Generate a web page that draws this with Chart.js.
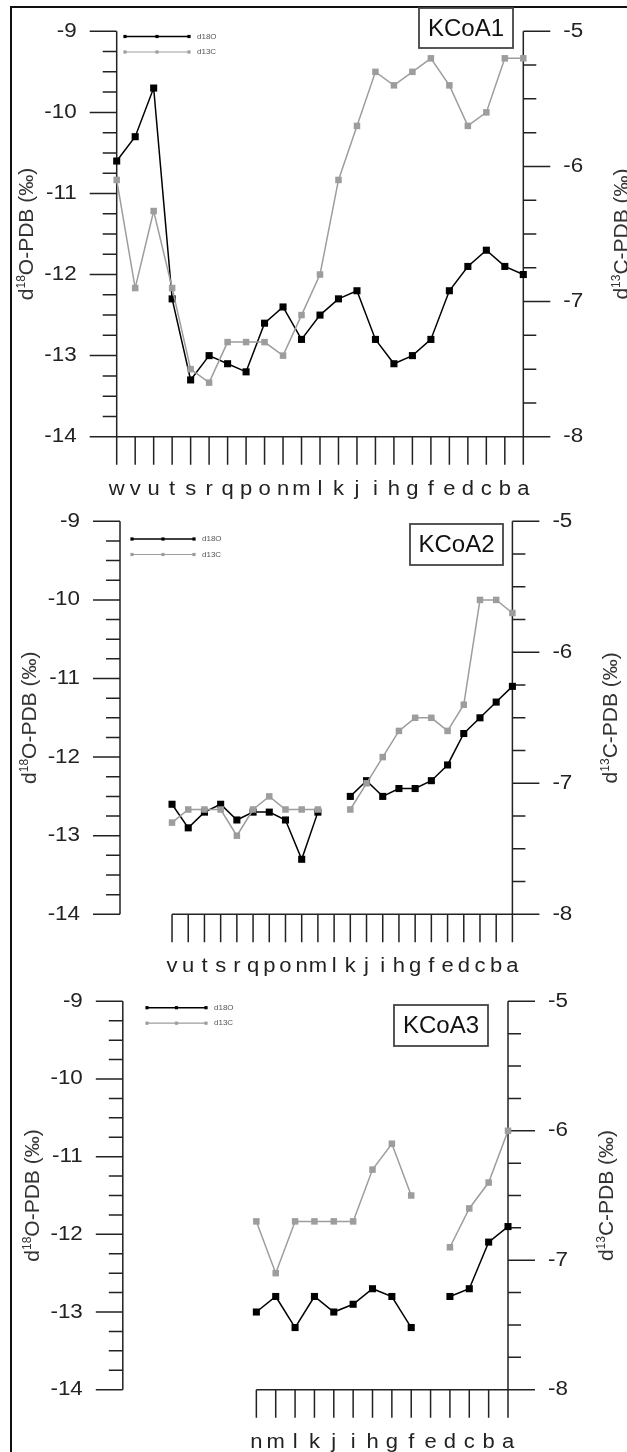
<!DOCTYPE html>
<html>
<head>
<meta charset="utf-8">
<script src="https://cdn.jsdelivr.net/npm/chart.js@4.4.1/dist/chart.umd.min.js"></script>
<style>
  html, body { margin: 0; padding: 0; background: #fff; }
  body { width: 627px; height: 1452px; overflow: hidden; position: relative; }
  #frame { position: absolute; left: 10px; top: 6px; width: 700px; height: 1500px;
           border-top: 2px solid #111; border-left: 2px solid #111; }
  canvas { position: absolute; left: 0; }
</style>
</head>
<body>
<div id="frame"></div>
<canvas id="kcoa1" width="627" height="510" style="top:0px"></canvas>
<canvas id="kcoa2" width="627" height="510" style="top:484px"></canvas>
<canvas id="kcoa3" width="627" height="510" style="top:968px"></canvas>
<script>
// sample letters along each profile
const lettersA1 = ['w','v','u','t','s','r','q','p','o','n','m','l','k','j','i','h','g','f','e','d','c','b','a'];
const lettersA2 = ['v','u','t','s','r','q','p','o','n','m','l','k','j','i','h','g','f','e','d','c','b','a'];
const lettersA3 = ['n','m','l','k','j','i','h','g','f','e','d','c','b','a'];

// KCoA1
const d18O_A1 = [-10.6, -10.3, -9.7, -12.3, -13.3, -13.0, -13.1, -13.2, -12.6, -12.4, -12.8, -12.5,
                 -12.3, -12.2, -12.8, -13.1, -13.0, -12.8, -12.2, -11.9, -11.7, -11.9, -12.0];
const d13C_A1 = [-6.1, -6.9, -6.33, -6.9, -7.5, -7.6, -7.3, -7.3, -7.3, -7.4, -7.1, -6.8,
                 -6.1, -5.7, -5.3, -5.4, -5.3, -5.2, -5.4, -5.7, -5.6, -5.2, -5.2];

// KCoA2 (no sample at l)
const d18O_A2 = [-12.6, -12.9, -12.7, -12.6, -12.8, -12.7, -12.7, -12.8, -13.3, -12.7, null,
                 -12.5, -12.3, -12.5, -12.4, -12.4, -12.3, -12.1, -11.7, -11.5, -11.3, -11.1];
const d13C_A2 = [-7.3, -7.2, -7.2, -7.2, -7.4, -7.2, -7.1, -7.2, -7.2, -7.2, null,
                 -7.2, -7.0, -6.8, -6.6, -6.5, -6.5, -6.6, -6.4, -5.6, -5.6, -5.7];

// KCoA3 (no sample at e)
const d18O_A3 = [-13.0, -12.8, -13.2, -12.8, -13.0, -12.9, -12.7, -12.8, -13.2, null, -12.8, -12.7, -12.1, -11.9];
const d13C_A3 = [-6.7, -7.1, -6.7, -6.7, -6.7, -6.7, -6.3, -6.1, -6.5, null, -6.9, -6.6, -6.4, -6.0];

// axis ranges
const oxyTicks = [-9, -10, -11, -12, -13, -14];
const carbTicks = [-5, -6, -7, -8];

const FONT = '"Liberation Sans", Arial, sans-serif';
const AXIS = '#222';
const BLACK = '#000';
const GREY = '#9d9d9d';

function toPoints(vals) {
  return vals.map((v, i) => ({ x: i, y: v }));
}

function wideText(ctx, txt, x, y, align, sx) {
  ctx.save();
  ctx.translate(x, y);
  ctx.scale(sx, 1);
  ctx.textAlign = align;
  ctx.fillText(txt, 0, 0);
  ctx.restore();
}

function rotatedTitle(ctx, iso, rest, cx, cy) {
  ctx.save();
  ctx.translate(cx, cy);
  ctx.rotate(-Math.PI / 2);
  ctx.fillStyle = '#333';
  ctx.textBaseline = 'alphabetic';
  const big = '21px ' + FONT, small = '12px ' + FONT;
  ctx.font = big;
  const wd = ctx.measureText('d').width;
  const wr = ctx.measureText(rest).width;
  ctx.font = small;
  const ws = ctx.measureText(iso).width;
  let x = -(wd + ws + wr) / 2;
  const base = 7;
  ctx.font = big;
  ctx.fillText('d', x, base);
  x += wd;
  ctx.font = small;
  ctx.fillText(iso, x, base - 8);
  x += ws;
  ctx.font = big;
  ctx.fillText(rest, x, base);
  ctx.restore();
}

const axesPlugin = {
  id: 'isoAxes',
  beforeDatasetsDraw(chart, args, o) {
    const ctx = chart.ctx;
    const xs = chart.scales.x, yl = chart.scales.y, yr = chart.scales.y2;
    const L = chart.chartArea.left, R = chart.chartArea.right;
    const T = chart.chartArea.top, B = chart.chartArea.bottom;
    ctx.save();
    ctx.strokeStyle = AXIS;
    ctx.lineWidth = 1.5;
    ctx.fillStyle = '#222';

    // left axis
    ctx.beginPath();
    ctx.moveTo(L, T); ctx.lineTo(L, B);
    for (let v = -9; v >= -14; v -= 0.25) {
      const y = yl.getPixelForValue(v);
      const len = Number.isInteger(v) ? 27 : 14;
      ctx.moveTo(L - len, y); ctx.lineTo(L, y);
    }
    // right axis
    ctx.moveTo(R, T); ctx.lineTo(R, B);
    for (let v = -5; v >= -8; v -= 0.25) {
      const y = yr.getPixelForValue(v);
      const len = Number.isInteger(v) ? 27 : 13;
      ctx.moveTo(R, y); ctx.lineTo(R + len, y);
    }
    // bottom axis with one tick per sample
    const x0 = xs.getPixelForValue(0), x1 = xs.getPixelForValue(o.letters.length - 1);
    ctx.moveTo(x0, B); ctx.lineTo(x1, B);
    o.letters.forEach((l, i) => {
      const x = xs.getPixelForValue(i);
      ctx.moveTo(x, B); ctx.lineTo(x, B + 28);
    });
    ctx.stroke();

    // tick labels
    ctx.font = '20px ' + FONT;
    ctx.textBaseline = 'middle';
    oxyTicks.forEach(v => wideText(ctx, String(v), L - 40, yl.getPixelForValue(v), 'right', 1.12));
    carbTicks.forEach(v => wideText(ctx, String(v), R + 40, yr.getPixelForValue(v), 'left', 1.12));
    ctx.textBaseline = 'alphabetic';
    o.letters.forEach((l, i) => wideText(ctx, l, xs.getPixelForValue(i), B + 58, 'center', 1.1));

    // axis titles
    const cy = (T + B) / 2;
    rotatedTitle(ctx, '18', 'O-PDB (\u2030)', L - 91, cy);
    rotatedTitle(ctx, '13', 'C-PDB (\u2030)', R + 98, cy);

    // legend
    const lg = o.legend;
    [[BLACK, 1.5, 'd18O', 0], [GREY, 1.2, 'd13C', 15.5]].forEach(([c, w, txt, dy]) => {
      const y = lg.y + dy;
      ctx.strokeStyle = c; ctx.fillStyle = c; ctx.lineWidth = w;
      ctx.beginPath(); ctx.moveTo(lg.x0, y); ctx.lineTo(lg.x1, y); ctx.stroke();
      [lg.x0, (lg.x0 + lg.x1) / 2, lg.x1].forEach(px => ctx.fillRect(px - 1.6, y - 1.6, 3.2, 3.2));
      ctx.fillStyle = '#555';
      ctx.font = '8px ' + FONT;
      ctx.textBaseline = 'middle';
      ctx.textAlign = 'left';
      ctx.fillText(txt, lg.x1 + 8, y);
    });

    // site label box
    const bx = o.box;
    ctx.strokeStyle = '#444';
    ctx.lineWidth = 1.8;
    ctx.fillStyle = '#fff';
    ctx.fillRect(bx.x, bx.y, bx.w, bx.h);
    ctx.strokeRect(bx.x, bx.y, bx.w, bx.h);
    ctx.fillStyle = '#111';
    ctx.font = '24px ' + FONT;
    ctx.textAlign = 'center';
    ctx.textBaseline = 'middle';
    ctx.fillText(o.name, bx.x + bx.w / 2, bx.y + bx.h / 2 + 1);
    ctx.restore();
  }
};

function makePanel(id, name, letters, oxy, carb, g) {
  const canvas = document.getElementById(id);
  const top = g.canvasTop, H = canvas.height;
  return new Chart(canvas, {
    type: 'line',
    data: {
      datasets: [
        {
          label: 'd13C', data: toPoints(carb), yAxisID: 'y2', order: 0,
          borderColor: GREY, backgroundColor: GREY, borderWidth: 1.5,
          pointStyle: 'rect', pointRadius: 4.6, pointBackgroundColor: GREY, pointBorderWidth: 0,
          spanGaps: false, clip: false
        },
        {
          label: 'd18O', data: toPoints(oxy), yAxisID: 'y', order: 1,
          borderColor: BLACK, backgroundColor: BLACK, borderWidth: 1.5,
          pointStyle: 'rect', pointRadius: 5, pointBackgroundColor: BLACK, pointBorderWidth: 0,
          spanGaps: false, clip: false
        }
      ]
    },
    options: {
      responsive: false,
      animation: false,
      devicePixelRatio: 1,
      layout: {
        padding: {
          left: g.left,
          right: 627 - g.right,
          top: g.top - top,
          bottom: H - (g.bottom - top)
        }
      },
      scales: {
        x: { type: 'linear', min: g.xMin, max: letters.length - 1, display: false },
        y: { type: 'linear', min: -14, max: -9, display: false },
        y2: { type: 'linear', min: -8, max: -5, display: false }
      },
      plugins: {
        legend: { display: false },
        tooltip: { enabled: false },
        isoAxes: {
          letters: letters, name: name,
          legend: { x0: g.lx0, x1: g.lx1, y: g.ly - top },
          box: { x: g.bx, y: g.by - top, w: g.bw, h: g.bh }
        }
      }
    },
    plugins: [axesPlugin]
  });
}

makePanel('kcoa1', 'KCoA1', lettersA1, d18O_A1, d13C_A1,
  { canvasTop: 0, left: 116.7, right: 523.3, top: 31.3, bottom: 436.7, xMin: 0,
    lx0: 125, lx1: 189, ly: 36.5, bx: 419, by: 8, bw: 94, bh: 40 });
makePanel('kcoa2', 'KCoA2', lettersA2, d18O_A2, d13C_A2,
  { canvasTop: 484, left: 120, right: 512.4, top: 521.3, bottom: 914.3, xMin: -3.21,
    lx0: 132, lx1: 194, ly: 539, bx: 410, by: 524, bw: 93, bh: 41 });
makePanel('kcoa3', 'KCoA3', lettersA3, d18O_A3, d13C_A3,
  { canvasTop: 968, left: 122.8, right: 508, top: 1001.3, bottom: 1389.7, xMin: -6.9,
    lx0: 147, lx1: 206, ly: 1007.7, bx: 394, by: 1005, bw: 94, bh: 41 });
</script>
</body>
</html>
